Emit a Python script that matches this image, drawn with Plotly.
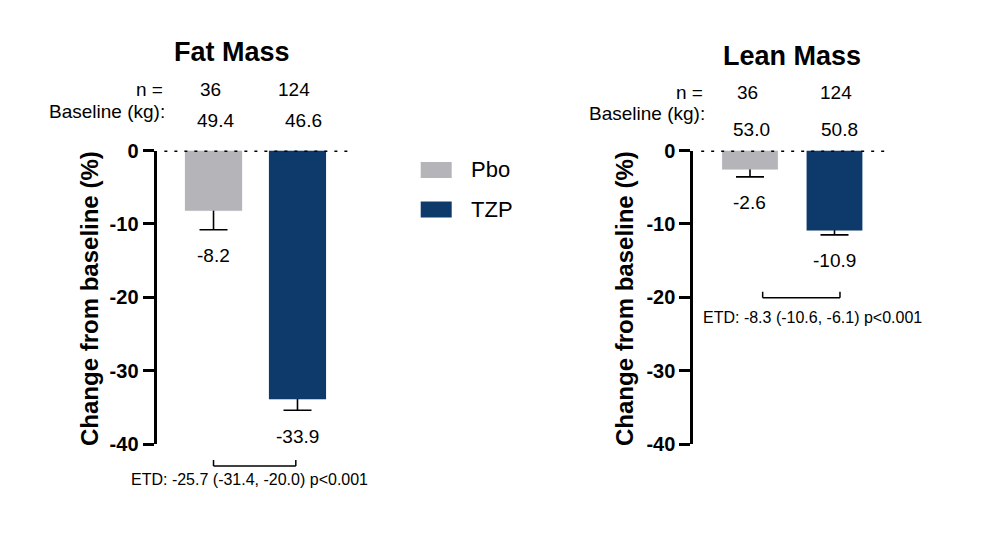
import plotly.graph_objects as go

# values
groups = ["Pbo", "TZP"]
n_counts = ["36", "124"]

fat_change = [-8.2, -33.9]
fat_err = [2.6, 1.5]
fat_baseline = ["49.4", "46.6"]
fat_etd = "ETD: -25.7 (-31.4, -20.0) p<0.001"

lean_change = [-2.6, -10.9]
lean_err = [1.0, 0.6]
lean_baseline = ["53.0", "50.8"]
lean_etd = "ETD: -8.3 (-10.6, -6.1) p<0.001"

y_ticks = [0, -10, -20, -30, -40]
y_tick_labels = ["0", "-10", "-20", "-30", "-40"]

colors = ["#b5b5b9", "#0e396b"]

W, H = 1008, 534
OFF = 8  # the page body adds an 8px margin around the figure
FONT = "Liberation Sans, Arial, sans-serif"


def px(x):
    return (x - OFF) / W


def py(y):
    return (H - y + OFF) / H


panels = [
    dict(title="Fat Mass", change=fat_change, err=fat_err, baseline=fat_baseline, etd=fat_etd,
         xa="x", ya="y", dom=(156.5, 353), xr=[-0.679, 1.661], width=0.68,
         title_xy=(232, 52), n_y=89, nlab_x=165, n_shift=[-3, -3],
         base_y=111, base_vy=121, base_shift=[2, 6],
         ytitle_x=89, br=(0.0, 0.98, 466), etd_xy=(249.5, 480)),
    dict(title="Lean Mass", change=lean_change, err=lean_err, baseline=lean_baseline, etd=lean_etd,
         xa="x2", ya="y2", dom=(693.3, 890), xr=[-0.671, 1.657], width=0.66,
         title_xy=(792, 56), n_y=92.5, nlab_x=705, n_shift=[-2, 2],
         base_y=113, base_vy=129, base_shift=[2, 5],
         ytitle_x=624, br=(0.15, 1.065, 297.7), etd_xy=(812.5, 317)),
]


def note(x, y, text, size=19, bold=False, xanchor="center", **kw):
    font = dict(size=size, color="black", family=FONT)
    if bold:
        font["weight"] = "bold"
    d = dict(x=x, y=y, text=text, showarrow=False, xanchor=xanchor, yanchor="middle", font=font)
    d.update(kw)
    return d


fig = go.Figure()
annotations = []
shapes = []

for p in panels:
    # invisible bars carrying the one-sided error bars (drawn beneath the real bars)
    fig.add_trace(go.Bar(
        x=groups, y=p["change"], width=p["width"],
        marker=dict(color="rgba(0,0,0,0)"),
        error_y=dict(type="data", symmetric=False, array=[0.5, 0.5], arrayminus=p["err"],
                     color="black", thickness=1.6, width=14),
        xaxis=p["xa"], yaxis=p["ya"], showlegend=False, hoverinfo="skip",
    ))
    for i, g in enumerate(groups):
        fig.add_trace(go.Bar(
            x=[g], y=[p["change"][i]], width=p["width"], name=g,
            marker=dict(color=colors[i], line=dict(width=0)),
            xaxis=p["xa"], yaxis=p["ya"], showlegend=False,
        ))
        # value label under the error bar
        annotations.append(note(g, p["change"][i] - p["err"][i], f"{p['change'][i]:.1f}",
                                xref=p["xa"], yref=p["ya"], yshift=-26))
        annotations.append(note(g, py(p["n_y"]), n_counts[i], xref=p["xa"], yref="paper",
                                xshift=p["n_shift"][i]))
        annotations.append(note(g, py(p["base_vy"]), p["baseline"][i], xref=p["xa"], yref="paper",
                                xshift=p["base_shift"][i]))

    annotations += [
        note(px(p["title_xy"][0]), py(p["title_xy"][1]), p["title"], size=27, bold=True,
             xref="paper", yref="paper"),
        note(px(p["nlab_x"]), py(p["n_y"]), "n =", xanchor="right", xref="paper", yref="paper"),
        note(px(p["nlab_x"] + 2), py(p["base_y"]), "Baseline (kg):", xanchor="right",
             xref="paper", yref="paper"),
        note(px(p["ytitle_x"]), py(299), "Change from baseline (%)", size=24, bold=True,
             textangle=-90, xref="paper", yref="paper"),
        note(px(p["etd_xy"][0]), py(p["etd_xy"][1]), p["etd"], size=16, xref="paper", yref="paper"),
    ]

    # dotted zero line
    shapes.append(dict(type="line", xref=p["xa"] + " domain", yref=p["ya"], x0=0.04, x1=1, y0=0, y1=0,
                       line=dict(color="black", width=3, dash="3px,7px")))
    # ETD bracket
    bx0, bx1, by = p["br"]
    bl = dict(color="black", width=1.5)
    shapes += [
        dict(type="line", xref=p["xa"], yref="paper", x0=bx0, x1=bx1, y0=py(by), y1=py(by), line=bl),
        dict(type="line", xref=p["xa"], yref="paper", x0=bx0, x1=bx0, y0=py(by), y1=py(by - 6), line=bl),
        dict(type="line", xref=p["xa"], yref="paper", x0=bx1, x1=bx1, y0=py(by), y1=py(by - 6), line=bl),
    ]

# legend drawn by hand so the swatches match the wide rectangles
legend_y = [170, 209.5]
for i, g in enumerate(groups):
    shapes.append(dict(type="rect", xref="paper", yref="paper",
                       x0=px(420.7), x1=px(451.7), y0=py(legend_y[i] - 8), y1=py(legend_y[i] + 8),
                       fillcolor=colors[i], line=dict(width=0)))
    annotations.append(note(px(469), py(legend_y[i]), g, size=22, xanchor="left",
                            xref="paper", yref="paper"))

yaxis_style = dict(
    range=[-40, 0], tickvals=y_ticks, ticktext=y_tick_labels,
    showline=True, linecolor="black", linewidth=3,
    ticks="outside", ticklen=11, tickwidth=3, tickcolor="black",
    showgrid=False, zeroline=False, automargin=False,
    tickfont=dict(size=20, color="black", family=FONT, weight="bold"),
    domain=[py(444), py(150.5)],
)

fig.update_layout(
    width=W, height=H, autosize=False,
    margin=dict(l=0, r=0, t=0, b=0, pad=0),
    paper_bgcolor="white", plot_bgcolor="white",
    barmode="overlay",
    font=dict(family=FONT, color="black"),
    xaxis=dict(domain=[px(panels[0]["dom"][0]), px(panels[0]["dom"][1])], range=panels[0]["xr"],
               visible=False, automargin=False, categoryorder="array", categoryarray=groups),
    xaxis2=dict(domain=[px(panels[1]["dom"][0]), px(panels[1]["dom"][1])], range=panels[1]["xr"],
                visible=False, automargin=False, categoryorder="array", categoryarray=groups),
    yaxis=dict(anchor="x", **yaxis_style),
    yaxis2=dict(anchor="x2", **yaxis_style),
    annotations=annotations,
    shapes=shapes,
    showlegend=False,
)

fig.write_html("out.html")
